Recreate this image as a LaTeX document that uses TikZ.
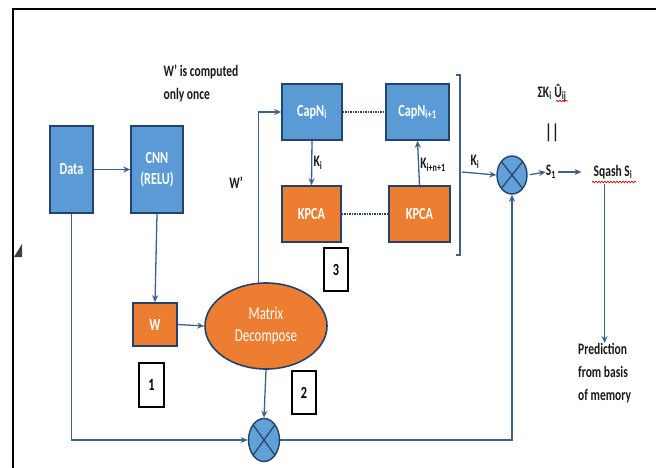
\documentclass[tikz,border=0pt]{standalone}
\usepackage{fontspec}
\setmainfont{Carlito}[FakeStretch=0.72]
\usetikzlibrary{arrows.meta,shapes.geometric,decorations.pathmorphing,calc}
\definecolor{boxblue}{HTML}{5B9BD5}
\definecolor{boxorange}{HTML}{ED7D31}
\definecolor{edgeblue}{HTML}{24426E}
\definecolor{linecol}{HTML}{3F5F8A}
\definecolor{circfill}{HTML}{62A0DA}
\begin{document}
\begin{tikzpicture}[x=1pt,y=-1pt,
  bluebox/.style={draw=edgeblue, line width=1.6pt, fill=boxblue, text=white,
    font=\bfseries\fontsize{17}{21}\selectfont, inner sep=0pt, align=center},
  orangebox/.style={bluebox, fill=boxorange},
  numbox/.style={draw=black, line width=1.2pt, fill=white, inner sep=0pt,
    font=\bfseries\fontsize{17}{18}\selectfont},
  cross/.style={draw=edgeblue, line width=1.4pt, fill=circfill, ellipse,
    inner sep=0pt, path picture={
      \draw[edgeblue, line width=1.2pt]
        (path picture bounding box.north west) -- (path picture bounding box.south east)
        (path picture bounding box.north east) -- (path picture bounding box.south west);}},
  conn/.style={draw=linecol, line width=1.3pt},
  arr/.style={conn, -{Stealth[length=7pt,width=6pt]}},
  dots/.style={draw=edgeblue, line width=1.3pt, dash pattern=on 1.5pt off 1pt},
  lbl/.style={text=black!90, font=\bfseries\fontsize{16}{23}\selectfont, inner sep=0pt, align=left},
  wavy/.style={draw=red!80!black, line width=0.7pt, decorate,
    decoration={snake, amplitude=0.8pt, segment length=3pt}}
]
\useasboundingbox (0,0) rectangle (656,468);
% frame
\draw[black, line width=2pt] (13,468) -- (13,9) -- (656,9);
\fill[black!75] (14,257) -- (22,244) -- (22,257) -- cycle;

% blocks
\node[bluebox, minimum width=43pt, minimum height=87pt] (data) at (71.5,169.5) {Data};
\node[bluebox, minimum width=52pt, minimum height=87pt] (cnn) at (157,169.5) {CNN\\(RELU)};
\node[orangebox, minimum width=44pt, minimum height=43pt] (w) at (155,324.5) {W};
\node[draw=edgeblue, line width=1.6pt, fill=boxorange, ellipse, minimum width=122pt,
  minimum height=86pt, inner sep=0pt, text=white, align=center,
  font=\fontsize{18}{22}\selectfont] (ell) at (266,326) {Matrix\\Decompose};
\node[bluebox, minimum width=60pt, minimum height=56pt] (capi) at (312,112) {CapN\textsubscript{i}};
\node[bluebox, minimum width=63pt, minimum height=56pt] (capn) at (417.5,112) {CapN\textsubscript{i+1}};
\node[orangebox, minimum width=59pt, minimum height=56pt] (kpca1) at (311.5,214) {KPCA};
\node[orangebox, minimum width=61pt, minimum height=56pt] (kpca2) at (419.5,214) {KPCA};

\node[numbox, minimum width=25pt, minimum height=44pt] (n1) at (151.5,385) {1};
\node[numbox, minimum width=24pt, minimum height=43pt] (n2) at (304,392.5) {2};
\node[numbox, minimum width=24pt, minimum height=43pt] (n3) at (336,269.5) {3};

\node[cross, minimum width=30pt, minimum height=38pt] (cx1) at (512,175) {};
\node[cross, minimum width=31pt, minimum height=43pt] (cx2) at (264,440) {};

% texts
\node[lbl] (wtxt) at (201,83) {W' is computed\\only once};
\node[lbl] (wprime) at (236,183) {W'};
\node[lbl] (sum) at (552,93) {ΣK\textsubscript{i} Û\textsubscript{ij}};
\node[lbl, font=\bfseries\fontsize{20}{20}\selectfont] (eq) at (552,133) {||};
\node[lbl] (s1) at (551,172) {S\textsubscript{1}};
\node[lbl] (sq) at (613,172) {Sqash S\textsubscript{i}};
\node[lbl, anchor=north west] (pred) at (578,343) {Prediction\\from basis\\of memory};
\node[lbl] (ki) at (318,163) {K\textsubscript{i}};
\node[lbl] (kn) at (433,165) {K\textsubscript{i+n+1}};
\node[lbl] (kout) at (475,162) {K\textsubscript{i}};

\draw[wavy] (556,101) -- (568,101);
\draw[wavy] (592,182) -- (636,182);

% bracket
\coordinate (bt) at (460,75);
\coordinate (bb) at (460,255);
\coordinate (bo) at (462,172);
\draw[conn] ($(bt)+(-4,0)$) -- (bt) -- (bb) -- ($(bb)+(-4,0)$);

% connectors
\draw[arr] (data.east) -- (cnn.west);
\draw[arr] (cnn.south) -- (w.north);
\draw[arr] (w.east) -- (ell.west);
\draw[arr] (ell.100) |- (capi.west);
\draw[dots] (capi.east) -- (capn.west);
\draw[dots] (kpca1.east) -- (kpca2.west);
\draw[arr] (capi.south) -- (kpca1.north);
\draw[arr] (kpca2.north) -- (capn.south);
\draw[arr] (bo) -- (cx1.west);
\draw[arr, shorten <=2pt] (cx1.east) -- (s1.west);
\draw[arr, shorten <=2pt, shorten >=12pt] (s1.east) -- (sq.west);
\draw[arr, shorten <=5pt] (sq.south -| pred.north) -- (pred.north);
\draw[arr] (ell.south) -- (cx2.north);
\draw[arr] (data.south) |- (cx2.west);
\draw[arr] (cx2.east) -| (cx1.south);
\end{tikzpicture}
\end{document}
